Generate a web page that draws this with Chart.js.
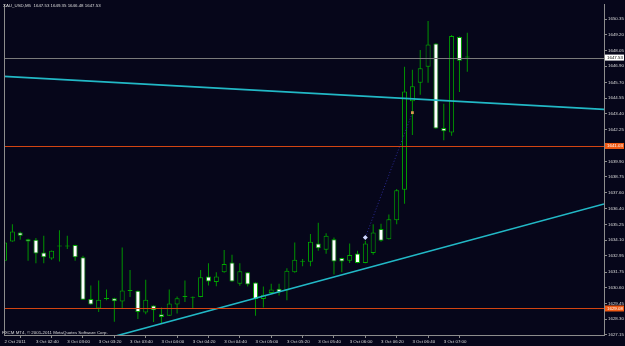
<!DOCTYPE html>
<html>
<head>
<meta charset="utf-8">
<script src="https://cdn.jsdelivr.net/npm/chart.js@4.4.0/dist/chart.umd.min.js"></script>
<style>
  html, body { margin: 0; padding: 0; background: #06061a; }
  #wrap { width: 625px; height: 346px; }
</style>
</head>
<body>
<div id="wrap"><canvas id="chart" width="625" height="346"></canvas></div>
<script>
// header / footer text
const headerText = "XAU_USD,M5  1647.53 1649.35 1646.48 1647.53";
const footerText = "FXCM MT4, \u00A9 2001-2011 MetaQuotes Software Corp.";

// M5 bars, 3 Oct 2011
const barTimes = [
  "02:20","02:25","02:30","02:35","02:40","02:45","02:50","02:55",
  "03:00","03:05","03:10","03:15","03:20","03:25","03:30","03:35",
  "03:40","03:45","03:50","03:55","04:00","04:05","04:10","04:15",
  "04:20","04:25","04:30","04:35","04:40","04:45","04:50","04:55",
  "05:00","05:05","05:10","05:15","05:20","05:25","05:30","05:35",
  "05:40","05:45","05:50","05:55","06:00","06:05","06:10","06:15",
  "06:20","06:25","06:30","06:35","06:40","06:45","06:50","06:55",
  "07:00","07:05","07:10","07:15"
];
const opens = [
  1632.59,1634.01,1634.67,1634.18,1634.13,1633.20,1632.76,1633.64,
  1633.64,1633.74,1632.84,1629.77,1629.08,1629.77,1629.84,1629.60,
  1630.36,1630.39,1628.79,1629.30,1628.66,1628.54,1629.37,1629.92,
  1629.87,1629.92,1631.43,1631.02,1631.75,1632.47,1630.90,1631.75,
  1630.99,1629.77,1630.21,1630.53,1630.41,1631.75,1632.52,1632.52,
  1633.86,1633.40,1634.18,1632.79,1632.59,1633.13,1632.43,1633.16,
  1634.92,1634.18,1635.56,1637.82,1644.31,1645.67,1646.86,1648.56,
  1642.36,1642.02,1649.05,1647.53
];
const highs = [
  1633.95,1635.27,1634.72,1634.20,1634.26,1634.42,1633.35,1634.84,
  1634.42,1633.76,1632.96,1630.77,1631.14,1630.48,1629.86,1633.57,
  1631.91,1630.41,1631.19,1629.32,1629.15,1630.48,1629.97,1631.14,
  1629.97,1631.91,1632.40,1631.75,1633.38,1633.03,1632.40,1631.77,
  1631.01,1630.70,1630.90,1630.90,1632.03,1633.93,1632.72,1634.55,
  1635.39,1634.62,1634.30,1632.81,1633.86,1633.33,1634.06,1635.27,
  1635.31,1636.00,1637.87,1646.86,1646.64,1648.08,1650.22,1648.59,
  1644.13,1649.19,1649.08,1649.35
];
const lows = [
  1632.15,1633.99,1634.13,1632.59,1632.40,1632.40,1632.67,1632.54,
  1633.45,1632.59,1629.71,1629.35,1628.83,1629.68,1628.10,1629.10,
  1629.92,1628.30,1628.66,1628.08,1627.93,1628.52,1628.71,1629.55,
  1629.08,1629.90,1630.77,1630.72,1631.71,1631.05,1630.75,1630.70,
  1628.54,1629.15,1630.19,1630.04,1629.68,1631.71,1632.18,1632.18,
  1633.33,1633.11,1631.58,1631.75,1632.43,1632.40,1632.40,1633.03,
  1633.99,1634.15,1635.27,1636.78,1641.83,1644.79,1645.67,1642.29,
  1641.46,1641.78,1644.99,1646.48
];
const closes = [
  1633.93,1634.74,1634.42,1634.01,1633.13,1632.84,1633.33,1633.66,
  1633.64,1632.84,1629.73,1629.37,1629.73,1629.77,1629.62,1630.41,
  1630.36,1628.83,1629.73,1628.95,1628.46,1629.44,1629.84,1629.92,
  1629.87,1631.38,1631.07,1631.43,1632.35,1631.07,1631.82,1630.85,
  1629.77,1630.09,1630.48,1630.28,1631.86,1632.67,1632.52,1633.99,
  1633.50,1634.42,1632.54,1632.54,1633.01,1632.43,1633.86,1634.67,
  1634.06,1635.64,1637.77,1645.04,1645.43,1646.74,1648.49,1642.31,
  1642.12,1649.12,1647.30,1647.53
];

// axis labels
const timeTickTimes = ["02:20","02:40","03:00","03:20","03:40","04:00","04:20","04:40",
  "05:00","05:20","05:40","06:00","06:20","06:40","07:00"];
const timeTickLabels = ["2 Oct 2011","3 Oct 02:40","3 Oct 03:00","3 Oct 03:20","3 Oct 03:40",
  "3 Oct 04:00","3 Oct 04:20","3 Oct 04:40","3 Oct 05:00","3 Oct 05:20","3 Oct 05:40",
  "3 Oct 06:00","3 Oct 06:20","3 Oct 06:40","3 Oct 07:00"];
const priceTicks = [1650.35,1649.20,1648.05,1646.90,1645.70,1644.55,1643.40,1642.25,1641.10,
  1639.90,1638.75,1637.60,1636.40,1635.25,1634.10,1632.95,1631.75,1630.60,1629.45,1628.30,1627.15];

// horizontal levels and bid
const levelPrices = [1641.03, 1629.08];
const bidPrice = 1647.53;

// trend lines, x in 5-minute bars from 02:40
const trendLineA = [[-4.07, 1646.15], [72.43, 1643.72]];
const trendLineB = [[10, 1627.03], [72.43, 1636.77]];
// trade open / close
const tradeOpen = ["06:10", 1634.30];
const tradeClose = ["06:40", 1643.48];

const BG = "#06061a";
const GREEN = "#00a800";
const WICK = "#009400";
const CYAN = "#22b8c6";
const ORANGE_LINE = "#d24412";
const ORANGE_BOX = "#f05a14";
const AXIS = "#8c8c8c";
const TEXT = "#dcdcdc";
const FONT = "'Liberation Sans', Arial, sans-serif";
const FSIZE = 4.4;

function toBarIndex(t) {
  const p = t.split(":").map(Number);
  return (p[0] * 60 + p[1] - 160) / 5;
}

const xs = barTimes.map(toBarIndex);
const wickData = xs.map((x, i) => ({ x: x, y: [lows[i], highs[i]] }));
const bodyData = xs.map((x, i) => ({ x: x, y: [opens[i], closes[i]] }));
const bodyFill = opens.map((o, i) => (closes[i] < o ? "#ffffff" : BG));

const mtPlugin = {
  id: "mt4",
  beforeDraw(chart) {
    const ctx = chart.ctx;
    ctx.save();
    ctx.fillStyle = BG;
    ctx.fillRect(0, 0, chart.width, chart.height);
    ctx.restore();
  },
  afterDatasetsDraw(chart) {
    const ctx = chart.ctx;
    const a = chart.chartArea;
    const y = chart.scales.y;
    ctx.save();
    ctx.lineWidth = 1;
    levelPrices.forEach((p) => {
      const py = Math.round(y.getPixelForValue(p)) + 0.5;
      ctx.strokeStyle = ORANGE_LINE;
      ctx.beginPath(); ctx.moveTo(a.left, py); ctx.lineTo(a.right, py); ctx.stroke();
    });
    const by = Math.round(y.getPixelForValue(bidPrice)) + 0.5;
    ctx.strokeStyle = "#7a7a7a";
    ctx.beginPath(); ctx.moveTo(a.left, by); ctx.lineTo(a.right, by); ctx.stroke();
    // left frame
    ctx.strokeStyle = AXIS;
    ctx.beginPath(); ctx.moveTo(a.left + 0.5, a.top); ctx.lineTo(a.left + 0.5, a.bottom); ctx.stroke();
    ctx.restore();
  },
  afterDraw(chart) {
    const ctx = chart.ctx;
    const a = chart.chartArea;
    const y = chart.scales.y;
    ctx.save();
    ctx.font = FSIZE + "px " + FONT;
    ctx.textBaseline = "middle";
    ctx.textAlign = "left";
    const boxes = levelPrices.map((p) => [p, ORANGE_BOX, "#ffffff"]).concat([[bidPrice, "#ffffff", "#000000"]]);
    boxes.forEach((b) => {
      const py = y.getPixelForValue(b[0]);
      ctx.fillStyle = b[1];
      ctx.fillRect(a.right + 1, py - 3, 19, 6);
      ctx.fillStyle = b[2];
      ctx.fillText(b[0].toFixed(2), a.right + 3, py + 0.3);
    });
    ctx.fillStyle = TEXT;
    ctx.fillText(headerText, 3, 6);
    ctx.fillText(footerText, 2, a.bottom - 2.5);
    ctx.restore();
  }
};

new Chart(document.getElementById("chart"), {
  type: "bar",
  data: {
    datasets: [
      {
        type: "line",
        data: [tradeOpen, tradeClose].map((d) => ({ x: toBarIndex(d[0]), y: d[1] })),
        borderColor: "#2a2a96",
        borderWidth: 1,
        borderDash: [1, 2],
        pointRadius: [2.5, 2],
        pointStyle: ["rectRot", "rect"],
        pointBackgroundColor: ["#d0d8ff", "#d89a50"],
        pointBorderWidth: 0,
        order: 0
      },
      {
        type: "line",
        data: trendLineA.map((d) => ({ x: d[0], y: d[1] })),
        borderColor: CYAN,
        borderWidth: 1.6,
        pointRadius: 0,
        order: 0
      },
      {
        type: "line",
        data: trendLineB.map((d) => ({ x: d[0], y: d[1] })),
        borderColor: CYAN,
        borderWidth: 1.6,
        pointRadius: 0,
        order: 0
      },
      {
        data: bodyData,
        backgroundColor: bodyFill,
        borderColor: GREEN,
        borderWidth: 1,
        borderSkipped: false,
        barThickness: 5,
        minBarLength: 1,
        inflateAmount: 0,
        grouped: false,
        clip: 0,
        order: 1
      },
      {
        data: wickData,
        backgroundColor: WICK,
        borderWidth: 0,
        barThickness: 1,
        minBarLength: 1,
        inflateAmount: 0,
        grouped: false,
        clip: 0,
        order: 2
      }
    ]
  },
  options: {
    responsive: false,
    animation: false,
    devicePixelRatio: 1,
    events: [],
    layout: { padding: { left: 1, top: 1, right: 0, bottom: 0 } },
    plugins: { legend: { display: false }, tooltip: { enabled: false } },
    scales: {
      x: {
        type: "linear",
        min: -4.07,
        max: 72.43,
        offset: false,
        grid: { drawOnChartArea: false, tickLength: 3, color: AXIS },
        border: { color: AXIS, width: 1 },
        afterBuildTicks: (s) => { s.ticks = timeTickTimes.map((t) => ({ value: toBarIndex(t) })); },
        ticks: {
          autoSkip: false,
          maxRotation: 0,
          align: "start",
          padding: 1,
          color: TEXT,
          font: { family: FONT, size: FSIZE },
          callback: (v, i) => timeTickLabels[i]
        },
        afterFit: (s) => { s.height = 11; s.paddingLeft = 0; s.paddingRight = 0; }
      },
      y: {
        position: "right",
        min: 1627.13,
        max: 1651.47,
        grid: { drawOnChartArea: false, tickLength: 3, color: AXIS },
        border: { color: AXIS, width: 1 },
        afterBuildTicks: (s) => { s.ticks = priceTicks.map((v) => ({ value: v })); },
        ticks: {
          padding: 1,
          color: TEXT,
          font: { family: FONT, size: FSIZE },
          callback: (v) => Number(v).toFixed(2)
        },
        afterFit: (s) => { s.width = 21; s.paddingTop = 0; s.paddingBottom = 0; }
      }
    }
  },
  plugins: [mtPlugin]
});
</script>
</body>
</html>
